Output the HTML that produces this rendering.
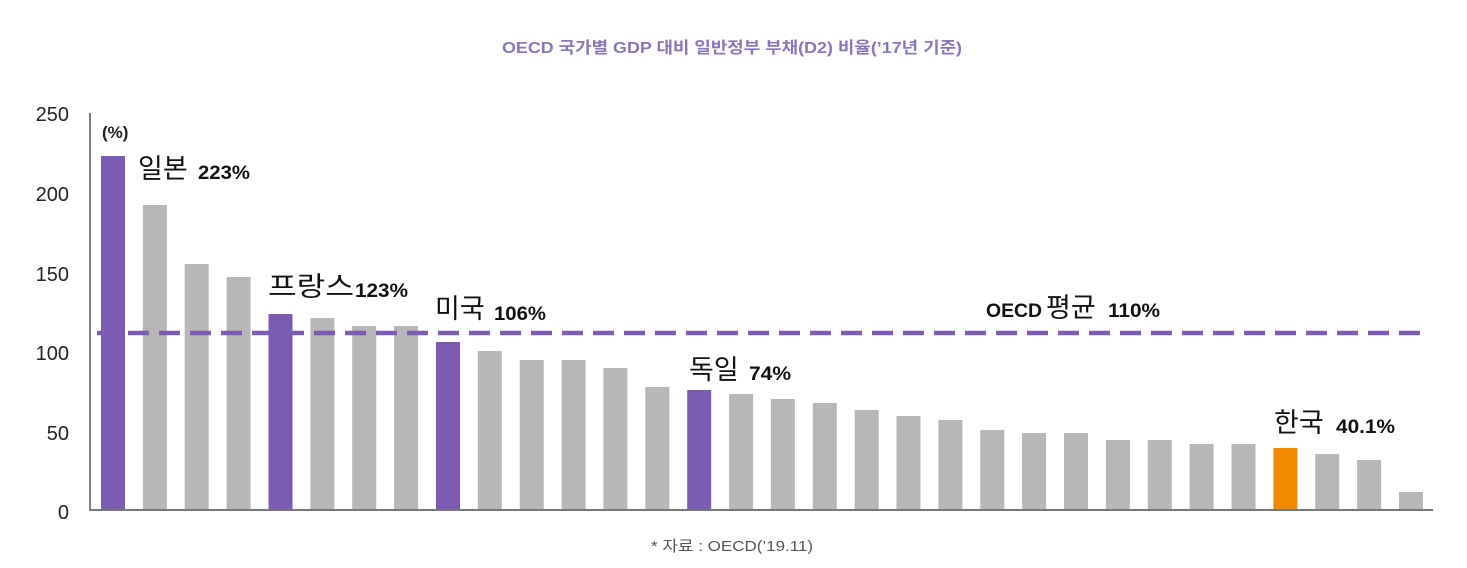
<!DOCTYPE html>
<html><head><meta charset="utf-8"><style>
html,body{margin:0;padding:0;background:#fff;}
svg{display:block;font-family:"Liberation Sans","Noto Sans CJK KR",sans-serif;}
</style></head><body>
<svg width="1467" height="568" viewBox="0 0 1467 568" xmlns="http://www.w3.org/2000/svg">
<text x="732" y="53" text-anchor="middle" font-size="16" font-weight="bold" fill="#8a76b8" textLength="460" lengthAdjust="spacingAndGlyphs">OECD 국가별 GDP 대비 일반정부 부채(D2) 비율(’17년 기준)</text>
<g font-size="20" fill="#222" text-anchor="end">
<text x="69" y="121">250</text><text x="69" y="201">200</text><text x="69" y="281">150</text><text x="69" y="360">100</text><text x="69" y="440">50</text><text x="69" y="519">0</text>
</g>
<line x1="90" y1="113" x2="90" y2="510" stroke="#555" stroke-width="1.5"/>
<g fill="#b6b7b6">
<rect x="101" y="156" width="24" height="354" fill="#7b5cb2"/>
<rect x="142.9" y="205" width="24" height="305"/>
<rect x="184.7" y="264" width="24" height="246"/>
<rect x="226.6" y="277" width="24" height="233"/>
<rect x="268.5" y="314" width="24" height="196" fill="#7b5cb2"/>
<rect x="310.4" y="318" width="24" height="192"/>
<rect x="352.2" y="326" width="24" height="184"/>
<rect x="394.1" y="326" width="24" height="184"/>
<rect x="436" y="342" width="24" height="168" fill="#7b5cb2"/>
<rect x="477.8" y="351" width="24" height="159"/>
<rect x="519.7" y="360" width="24" height="150"/>
<rect x="561.6" y="360" width="24" height="150"/>
<rect x="603.4" y="368" width="24" height="142"/>
<rect x="645.3" y="387" width="24" height="123"/>
<rect x="687.2" y="390" width="24" height="120" fill="#7b5cb2"/>
<rect x="729.1" y="394" width="24" height="116"/>
<rect x="770.9" y="399" width="24" height="111"/>
<rect x="812.8" y="403" width="24" height="107"/>
<rect x="854.7" y="410" width="24" height="100"/>
<rect x="896.5" y="416" width="24" height="94"/>
<rect x="938.4" y="420" width="24" height="90"/>
<rect x="980.3" y="430" width="24" height="80"/>
<rect x="1022.1" y="433" width="24" height="77"/>
<rect x="1064" y="433" width="24" height="77"/>
<rect x="1105.9" y="440" width="24" height="70"/>
<rect x="1147.8" y="440" width="24" height="70"/>
<rect x="1189.6" y="444" width="24" height="66"/>
<rect x="1231.5" y="444" width="24" height="66"/>
<rect x="1273.4" y="448" width="24" height="62" fill="#f08a00"/>
<rect x="1315.2" y="454" width="24" height="56"/>
<rect x="1357.1" y="460" width="24" height="50"/>
<rect x="1399" y="492" width="24" height="18"/>
</g>
<line x1="89" y1="510" x2="1433" y2="510" stroke="#777" stroke-width="2"/>
<line x1="97" y1="333" x2="1426" y2="333" stroke="#7b5cb2" stroke-width="4.5" stroke-dasharray="21 10"/>
<text x="102" y="138" font-size="17" font-weight="bold" fill="#222">(%)</text>
<g fill="#111">
<text x="138" y="178" font-size="27">일본</text><text x="198" y="179" font-size="19" font-weight="bold" textLength="52" lengthAdjust="spacingAndGlyphs">223%</text>
<text x="268" y="296" font-size="27" textLength="86" lengthAdjust="spacingAndGlyphs">프랑스</text><text x="355" y="297" font-size="19" font-weight="bold" textLength="53" lengthAdjust="spacingAndGlyphs">123%</text>
<text x="435" y="318" font-size="27">미국</text><text x="494" y="320" font-size="19" font-weight="bold" textLength="52" lengthAdjust="spacingAndGlyphs">106%</text>
<text x="986" y="317" font-size="19" font-weight="bold" textLength="56" lengthAdjust="spacingAndGlyphs">OECD</text><text x="1046" y="317" font-size="27">평균</text><text x="1108" y="317" font-size="19" font-weight="bold" textLength="52" lengthAdjust="spacingAndGlyphs">110%</text>
<text x="689" y="379" font-size="27">독일</text><text x="749" y="380" font-size="19" font-weight="bold" textLength="42" lengthAdjust="spacingAndGlyphs">74%</text>
<text x="1274" y="432" font-size="27">한국</text><text x="1336" y="433" font-size="19" font-weight="bold" textLength="59" lengthAdjust="spacingAndGlyphs">40.1%</text>
</g>
<text x="732" y="551" text-anchor="middle" font-size="15" fill="#555" textLength="162" lengthAdjust="spacingAndGlyphs">*  자료 : OECD(’19.11)</text>
</svg>
</body></html>
